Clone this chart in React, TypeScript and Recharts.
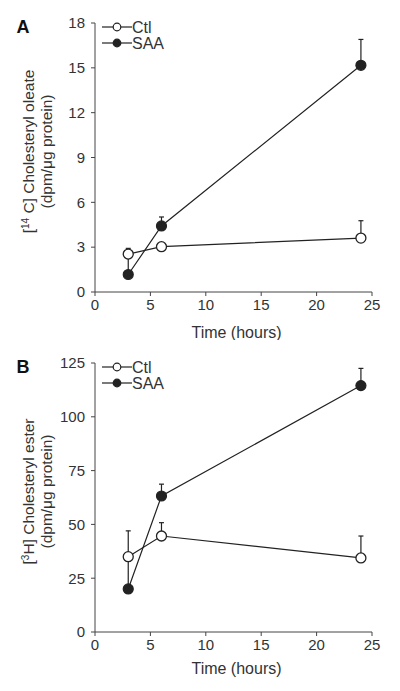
import React from "react";
import { LineChart, Line, XAxis, YAxis, ErrorBar, Legend, Label } from "recharts";

// sampling times (hours)
const hours = [3, 6, 24];
const timeTicks = [0, 5, 10, 15, 20, 25];

// panel A: [14C] cholesteryl oleate (dpm/ug protein)
const oleateTicks = [0, 3, 6, 9, 12, 15, 18];
const ctlOleate = [2.54, 3.03, 3.61];
const ctlOleateErr = [0.38, 0.15, 1.16];
const saaOleate = [1.17, 4.42, 15.17];
const saaOleateErr = [1.2, 0.6, 1.73];

// panel B: [3H] cholesteryl ester (dpm/ug protein)
const esterTicks = [0, 25, 50, 75, 100, 125];
const ctlEster = [35, 44.6, 34.4];
const ctlEsterErr = [12, 6.2, 10.2];
const saaEster = [20, 63.2, 114.5];
const saaEsterErr = [13, 5.5, 8];

const INK = "#222";
const AXIS = "#444";
const FONT = "'Liberation Sans', Arial, sans-serif";

const buildRows = (ctl: number[], ctlErr: number[], saa: number[], saaErr: number[]) =>
  hours.map((h, i) => ({
    h,
    ctl: ctl[i],
    ctlErr: [0, ctlErr[i]],
    saa: saa[i],
    saaErr: [0, saaErr[i]],
  }));

const LegendKey = () => (
  <svg width={90} height={36} style={{ display: "block" }}>
    {[
      { name: "Ctl", fill: "#fff", y: 12 },
      { name: "SAA", fill: INK, y: 28 },
    ].map((row) => (
      <g key={row.name}>
        <line x1={4} x2={34} y1={row.y} y2={row.y} stroke={INK} strokeWidth={1.2} />
        <circle cx={19} cy={row.y} r={3.8} fill={row.fill} stroke={INK} strokeWidth={1.2} />
        <text x={34} y={row.y} dy="0.36em" fontSize={16} fill="#333" fontFamily={FONT}>
          {row.name}
        </text>
      </g>
    ))}
  </svg>
);

interface PanelProps {
  letter: string;
  yLabel: React.ReactNode;
  rows: ReturnType<typeof buildRows>;
  yTicks: number[];
  titleY: number;
  height: number;
}

const Panel = ({ letter, yLabel, rows, yTicks, titleY, height }: PanelProps) => {
  const yMax = yTicks[yTicks.length - 1];

  const renderYLabel = (props: any) => {
    const vb = props.viewBox || { x: 55, y: 23, width: 40, height: 269 };
    const cy = vb.y + vb.height / 2 - 6;
    return (
      <g fontFamily={FONT} fill="#333">
        <text x={23} y={27} dy="0.36em" textAnchor="middle" fontSize={18} fontWeight="bold" fill="#111">
          {letter}
        </text>
        <text x={28} y={cy} transform={`rotate(-90, 28, ${cy})`} textAnchor="middle" dy="0.36em" fontSize={15.5}>
          {yLabel}
        </text>
        <text x={46} y={cy} transform={`rotate(-90, 46, ${cy})`} textAnchor="middle" dy="0.36em" fontSize={15.5}>
          (dpm/μg protein)
        </text>
      </g>
    );
  };

  const renderXLabel = (props: any) => {
    const vb = props.viewBox || { x: 95, y: 292, width: 277, height: 48 };
    return (
      <text
        x={vb.x + vb.width / 2 + 3}
        y={titleY}
        dy="0.36em"
        textAnchor="middle"
        fontSize={16}
        fill="#333"
        fontFamily={FONT}
      >
        Time (hours)
      </text>
    );
  };

  return (
    <LineChart
      width={400}
      height={height}
      data={rows}
      margin={{ top: 23, right: 28, left: 55, bottom: height - 292 - 48 }}
    >
      <XAxis
        type="number"
        dataKey="h"
        domain={[0, 25]}
        ticks={timeTicks}
        height={48}
        tickSize={4}
        tickMargin={3}
        stroke={AXIS}
        tick={{ fontSize: 15, fill: "#333", fontFamily: FONT }}
      >
        <Label content={renderXLabel} />
      </XAxis>
      <YAxis
        type="number"
        domain={[0, yMax]}
        ticks={yTicks}
        width={40}
        tickSize={4}
        tickMargin={6}
        stroke={AXIS}
        tick={{ fontSize: 15, fill: "#333", fontFamily: FONT }}
      >
        <Label content={renderYLabel} />
      </YAxis>
      <Legend
        layout="vertical"
        align="center"
        verticalAlign="middle"
        content={() => <LegendKey />}
        wrapperStyle={{ left: 98, top: 15, width: 90, height: 36 }}
      />
      <Line
        dataKey="saa"
        name="SAA"
        type="linear"
        stroke={INK}
        strokeWidth={1.2}
        dot={{ r: 5, fill: INK, stroke: INK, strokeWidth: 1.2 }}
        activeDot={false}
        isAnimationActive={false}
      >
        <ErrorBar dataKey="saaErr" direction="y" width={2.5} stroke={INK} strokeWidth={1.2} />
      </Line>
      <Line
        dataKey="ctl"
        name="Ctl"
        type="linear"
        stroke={INK}
        strokeWidth={1.2}
        dot={{ r: 5, fill: "#fff", stroke: INK, strokeWidth: 1.3 }}
        activeDot={false}
        isAnimationActive={false}
      >
        <ErrorBar dataKey="ctlErr" direction="y" width={2.5} stroke={INK} strokeWidth={1.2} />
      </Line>
    </LineChart>
  );
};

export default function App() {
  const oleateRows = buildRows(ctlOleate, ctlOleateErr, saaOleate, saaOleateErr);
  const esterRows = buildRows(ctlEster, ctlEsterErr, saaEster, saaEsterErr);

  return (
    <div
      style={{
        position: "absolute",
        left: 0,
        top: 0,
        width: 400,
        height: 691,
        background: "#fff",
        fontFamily: FONT,
      }}
    >
      <Panel
        letter="A"
        yLabel={
          <>
            [<tspan fontSize={10} dy={-5}>14</tspan>
            <tspan dy={5}> C] Cholesteryl oleate</tspan>
          </>
        }
        rows={oleateRows}
        yTicks={oleateTicks}
        titleY={332}
        height={340}
      />
      <Panel
        letter="B"
        yLabel={
          <>
            [<tspan fontSize={10} dy={-5}>3</tspan>
            <tspan dy={5}>H] Cholesteryl ester</tspan>
          </>
        }
        rows={esterRows}
        yTicks={esterTicks}
        titleY={328}
        height={351}
      />
    </div>
  );
}
